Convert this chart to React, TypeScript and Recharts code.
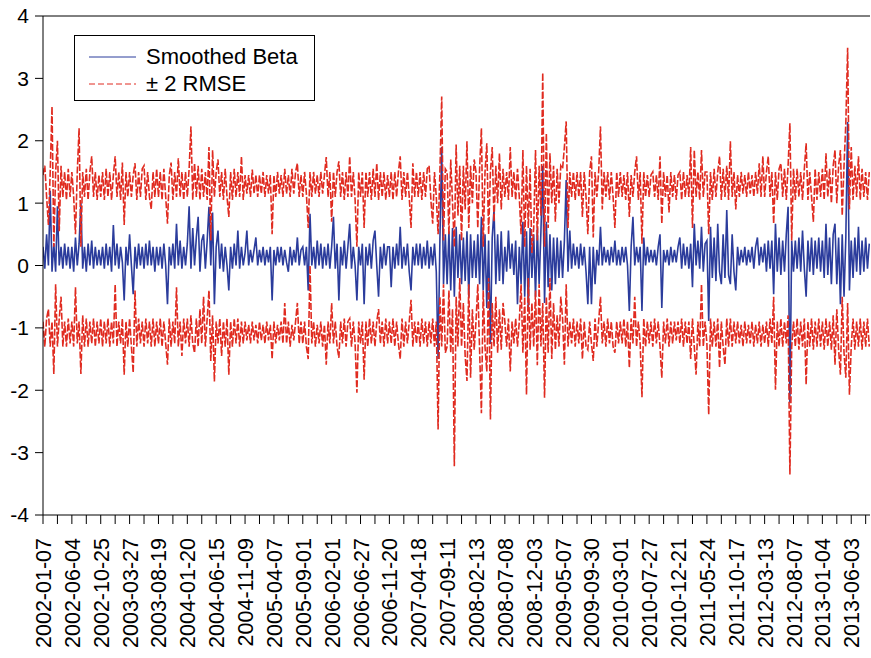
import React from "react";
import { LineChart, Line, XAxis, YAxis, ReferenceLine, Legend } from "recharts";

const dateLabels = [
  "2002-01-07", "2002-06-04", "2002-10-25", "2003-03-27", "2003-08-19",
  "2004-01-20", "2004-06-15", "2004-11-09", "2005-04-07", "2005-09-01",
  "2006-02-01", "2006-06-27", "2006-11-20", "2007-04-18", "2007-09-11",
  "2008-02-13", "2008-07-08", "2008-12-03", "2009-05-07", "2009-09-30",
  "2010-03-01", "2010-07-27", "2010-12-21", "2011-05-24", "2011-10-17",
  "2012-03-13", "2012-08-07", "2013-01-04", "2013-06-03",
];

const OBS_PER_LABEL = 100; // observations between two date labels
const POINTS_PER_LABEL = 16; // points per label interval
const LAST_OBS = 2865;
const yTicks = [-4, -3, -2, -1, 0, 1, 2, 3, 4];

// one row per label interval (thinned)
const betaRows = [
  [0.3, -0.05, 0.5, 0.0, 1.2, -0.1, 0.35, -0.1, 0.95, 0.0, 0.3, -0.05, 0.35, 0.0, 0.3, -0.05],
  [0.3, -0.1, 0.45, 0.0, 0.35, 1.0, -0.05, 0.3, -0.1, 0.35, 0.0, 0.4, -0.05, 0.3, 0.0, 0.25],
  [0.0, 0.3, -0.05, 0.35, 0.0, 0.3, -0.1, 0.65, 0.0, 0.35, -0.05, 0.3, 0.05, -0.56, 0.3, 0.0],
  [0.5, 0.0, -0.46, 0.3, -0.05, 0.35, 0.0, 0.3, -0.05, 0.35, 0.0, 0.4, 0.0, 0.3, -0.1, 0.3],
  [0.0, 0.3, -0.05, 0.35, 0.0, -0.62, 0.3, 0.0, 0.35, -0.05, 0.67, 0.0, 0.4, -0.05, 0.3, 0.0],
  [0.35, 0.95, -0.05, 0.6, 0.0, 0.45, 0.78, -0.1, 0.4, 0.5, -0.05, 0.4, 0.94, 0.0, 0.85, -0.62],
  [0.3, 0.56, -0.05, 0.35, -0.1, 0.3, 0.0, -0.4, 0.3, -0.05, 0.35, 0.0, 0.56, -0.05, 0.3, 0.0],
  [0.2, 0.56, 0.0, 0.25, 0.05, 0.25, 0.45, 0.0, 0.25, 0.05, 0.3, 0.0, 0.25, 0.05, 0.3, -0.56],
  [0.25, 0.0, 0.3, 0.05, 0.3, 0.0, 0.25, 0.05, -0.1, 0.3, 0.0, 0.25, 0.05, 0.45, 0.0, 0.25],
  [0.3, 0.0, 0.3, -0.4, 0.83, 0.0, 0.3, -0.05, 0.4, 0.0, 0.35, -0.05, 0.3, 0.0, 0.35, -0.05],
  [0.3, 0.78, -0.05, 0.35, -0.56, 0.3, 0.0, 0.4, -0.05, 0.3, 0.67, -0.05, 0.3, 0.0, -0.56, 0.3],
  [0.0, 0.35, -0.62, 0.3, 0.0, 0.35, -0.05, 0.4, 0.56, 0.0, -0.5, 0.3, -0.05, 0.35, 0.0, 0.3],
  [0.3, -0.35, 0.3, -0.05, 0.35, 0.0, 0.62, -0.05, 0.3, 0.0, 0.35, -0.1, -0.4, 0.3, 0.0, 0.35],
  [0.0, 0.35, -0.05, 0.3, 0.0, 0.4, -0.05, 0.3, 0.0, 0.35, -0.1, -1.5, 0.4, 1.9, -0.3, 0.5],
  [-0.3, 0.55, -0.4, 0.6, -0.5, 0.62, -0.2, 0.5, -0.3, 0.45, -0.25, 0.55, -0.5, 0.5, -0.2, 0.4],
  [-0.2, 0.5, -0.3, 0.78, -0.4, 0.5, -0.68, 0.4, -1.26, 0.45, 0.9, -0.3, 0.5, -0.25, 0.55, -0.3],
  [0.3, -0.1, 0.56, -0.05, 0.35, -0.15, 0.4, -0.62, 0.3, -0.3, 0.7, -0.5, 0.55, -0.7, 0.6, -0.2],
  [0.5, -0.5, 0.6, -0.3, 0.55, 1.6, -0.6, 0.7, -0.35, 0.5, -0.4, 0.45, -0.3, 0.45, -0.2, 0.4],
  [-0.2, 0.4, 1.37, -0.1, 0.56, -0.05, 0.35, 0.0, 0.3, -0.05, 0.35, 0.0, 0.3, -0.1, -0.62, 0.3],
  [-0.62, 0.3, -0.3, 0.25, 0.0, 0.62, 0.0, 0.3, 0.05, 0.25, 0.0, 0.3, 0.05, 0.4, 0.0, 0.25],
  [0.0, 0.3, 0.05, 0.3, 0.0, -0.73, 0.3, 0.78, 0.0, 0.3, 0.05, 0.3, -0.73, 0.45, 0.0, 0.3],
  [0.05, 0.25, 0.05, 0.25, 0.0, 0.3, 0.5, -0.68, 0.25, 0.05, 0.25, 0.0, 0.3, 0.05, 0.25, 0.05],
  [0.3, 0.45, -0.05, 0.35, 0.0, 0.3, -0.05, 0.35, -0.35, 0.67, 0.0, 0.4, -0.05, 0.62, -0.1, 0.35],
  [0.4, -0.89, 0.62, -0.2, 0.45, -0.25, 0.67, -0.1, -0.3, 0.5, -0.2, 0.89, -0.15, -0.3, 0.5, -0.1],
  [-0.4, 0.3, 0.0, 0.25, 0.05, 0.3, 0.0, 0.25, 0.05, 0.3, -0.05, 0.3, 0.45, 0.0, 0.3, 0.05],
  [0.35, -0.1, 0.4, -0.05, 0.4, -0.46, 0.67, -0.1, 0.45, -0.15, 0.4, -0.1, 0.5, 0.94, -2.2, 0.4],
  [-0.1, 0.4, -0.05, 0.45, -0.1, 0.56, -0.05, -0.5, 0.4, -0.1, 0.45, -0.15, 0.4, -0.05, 0.45, -0.1],
  [0.4, -0.2, 0.67, -0.15, 0.45, -0.3, 0.5, 0.67, -0.3, 0.45, -0.62, 0.5, -0.5, 0.45, 2.3, -0.4],
  [0.4, -0.2, 0.45, -0.1, 0.62, -0.15, 0.4, -0.1, 0.45, -0.05, 0.35],
];

const upperRows = [
  [1.45, 1.6, 1.1, 0.65, 1.5, 2.55, 0.3, 1.5, 2.0, 0.55, 1.6, 1.1, 1.5, 1.05, 1.55, 1.1],
  [1.5, 1.1, 0.5, 1.5, 2.2, 0.3, 1.5, 1.1, 1.55, 1.05, 1.5, 1.75, 1.1, 1.5, 1.05, 1.45],
  [1.1, 1.5, 1.05, 1.55, 1.1, 1.5, 1.05, 1.45, 1.75, 1.1, 1.5, 1.05, 1.65, 0.65, 1.5, 1.1],
  [1.5, 1.1, 1.45, 1.64, 1.05, 1.5, 1.1, 1.55, 1.6, 1.05, 1.5, 1.1, 0.9, 1.5, 1.1, 1.55],
  [1.1, 1.5, 1.05, 1.55, 1.1, 0.67, 1.45, 1.65, 1.05, 1.5, 1.1, 1.72, 1.1, 1.5, 1.05, 1.5],
  [1.1, 1.55, 2.23, 1.05, 1.64, 1.1, 1.6, 1.05, 1.55, 1.1, 1.5, 1.05, 1.9, 0.4, 1.85, 1.1],
  [1.5, 1.7, 1.1, 1.5, 1.05, 1.55, 1.1, 0.78, 1.5, 1.05, 1.55, 1.1, 1.5, 1.1, 1.75, 1.05],
  [1.45, 1.15, 1.45, 1.1, 1.54, 1.15, 1.45, 1.1, 1.45, 1.15, 1.5, 1.1, 1.45, 1.15, 1.45, 0.5],
  [1.45, 1.1, 1.5, 1.15, 1.45, 1.1, 1.55, 1.15, 1.45, 1.1, 1.55, 1.15, 1.5, 1.64, 1.1, 1.45],
  [1.1, 1.5, 1.15, 0.6, 1.5, 1.1, 1.5, 1.15, 1.45, 1.1, 1.5, 1.15, 1.45, 1.74, 1.1, 1.5],
  [0.7, 1.5, 1.1, 1.5, 1.67, 1.1, 1.5, 1.05, 1.5, 1.1, 1.75, 1.1, 1.5, 1.05, 0.3, 1.5],
  [1.1, 1.5, 0.6, 1.5, 1.1, 1.5, 1.05, 1.55, 1.1, 1.64, 1.05, 1.5, 1.1, 1.5, 1.05, 1.45],
  [1.1, 1.5, 1.05, 1.5, 1.1, 1.5, 1.75, 1.05, 1.5, 1.1, 1.5, 1.1, 0.6, 1.64, 1.1, 1.5],
  [1.1, 1.5, 1.05, 1.5, 1.1, 1.55, 1.6, 1.05, 0.67, 1.5, 1.1, 0.5, 1.5, 2.71, 0.4, 1.55],
  [1.5, 0.5, 1.7, 1.0, 0.3, 1.94, 0.8, 1.6, 0.4, 1.6, 0.9, 1.99, 0.6, 1.6, 1.0, 1.7],
  [1.5, 0.6, 1.55, 2.2, 0.3, 1.5, 1.96, 0.5, 1.5, 1.9, 0.7, 1.6, 1.0, 1.8, 0.9, 1.55],
  [1.1, 1.5, 1.05, 1.9, 1.1, 1.5, 1.05, 1.55, 1.1, 0.5, 1.85, 0.3, 1.6, 0.6, 1.55, 0.2],
  [0.6, 1.85, 0.4, 1.6, 0.8, 3.09, 0.3, 2.12, 0.6, 1.8, 1.0, 1.6, 0.7, 1.55, 1.0, 1.6],
  [1.55, 1.9, 2.31, 0.6, 1.5, 1.1, 1.5, 1.05, 1.5, 1.1, 1.5, 0.78, 1.5, 1.1, 0.5, 1.5],
  [1.75, 0.45, 1.5, 1.1, 1.5, 2.23, 0.9, 1.5, 1.1, 1.5, 1.05, 1.5, 1.1, 0.6, 1.5, 1.1],
  [1.5, 1.1, 1.45, 1.05, 1.5, 0.78, 1.45, 1.1, 1.5, 1.75, 1.05, 1.5, 0.35, 1.5, 1.1, 1.45],
  [1.1, 1.45, 1.5, 1.1, 1.45, 1.05, 1.75, 0.67, 1.5, 1.1, 1.45, 0.85, 1.5, 1.1, 1.45, 1.05],
  [1.45, 1.5, 1.05, 1.5, 1.1, 1.45, 1.1, 1.9, 0.6, 1.85, 1.1, 1.5, 1.05, 1.85, 1.1, 1.5],
  [1.5, 0.5, 1.5, 1.05, 1.55, 1.1, 1.5, 1.75, 1.05, 1.55, 1.1, 1.6, 1.05, 1.99, 1.1, 1.5],
  [0.9, 1.45, 1.1, 1.5, 1.15, 1.45, 1.1, 1.5, 1.15, 1.45, 1.1, 1.5, 1.15, 1.64, 1.1, 1.75],
  [1.1, 1.5, 1.75, 1.1, 1.5, 0.67, 1.5, 1.05, 1.55, 1.64, 1.1, 1.55, 1.05, 1.6, 2.28, 0.4],
  [1.55, 1.05, 1.55, 1.1, 1.5, 1.05, 1.55, 1.96, 1.05, 1.5, 1.1, 0.7, 1.55, 1.05, 1.5, 1.1],
  [1.55, 1.05, 1.8, 1.1, 1.55, 1.0, 1.6, 1.85, 1.0, 1.6, 1.85, 0.8, 1.6, 2.28, 3.49, 0.9],
  [1.9, 1.05, 1.6, 1.1, 1.75, 1.05, 1.55, 1.1, 1.5, 1.05, 1.5],
];

const lowerRows = [
  [-0.9, -1.3, -0.85, -0.7, -1.3, -0.9, -1.74, -0.3, -1.3, -0.85, -0.5, -1.3, -0.9, -1.3, -0.85, -1.25],
  [-0.9, -1.3, -0.35, -1.25, -0.9, -1.74, -0.8, -1.3, -0.85, -1.3, -0.9, -1.25, -0.85, -1.3, -0.9, -1.25],
  [-0.85, -1.3, -0.9, -1.25, -0.85, -1.3, -0.9, -1.25, -0.3, -1.3, -0.9, -1.25, -0.85, -1.75, -0.9, -1.3],
  [-0.85, -1.3, -1.72, -0.4, -1.3, -0.85, -1.25, -0.9, -1.3, -0.85, -1.25, -0.9, -1.3, -0.85, -1.3, -0.9],
  [-1.25, -0.85, -1.3, -0.9, -1.25, -1.59, -0.85, -1.3, -0.9, -1.25, -0.35, -1.3, -0.9, -1.45, -0.85, -1.25],
  [-0.85, -1.3, -0.8, -1.25, -1.4, -0.85, -1.3, -0.7, -1.25, -0.5, -1.3, -0.85, -0.4, -1.53, -0.8, -1.86],
  [-0.9, -1.25, -0.85, -1.45, -0.9, -1.3, -0.85, -1.75, -0.9, -1.3, -0.85, -1.25, -0.85, -1.3, -0.9, -1.25],
  [-0.9, -1.2, -0.95, -1.25, -0.9, -1.2, -0.95, -1.25, -0.9, -1.2, -0.95, -1.25, -0.9, -1.2, -0.95, -1.5],
  [-0.9, -1.25, -0.95, -1.2, -0.9, -1.25, -0.6, -1.25, -0.9, -1.3, -0.95, -1.2, -0.9, -0.6, -1.25, -0.9],
  [-1.25, -0.9, -1.3, -1.5, 0.0, -1.25, -0.9, -1.3, -0.95, -1.25, -0.9, -1.3, -0.95, -1.59, -0.9, -1.25],
  [-0.6, -1.25, -0.9, -1.3, -1.48, -0.9, -1.25, -0.85, -1.3, -0.9, -0.85, -1.3, -0.9, -1.25, -2.04, -0.9],
  [-1.25, -0.9, -1.83, -0.9, -1.3, -0.85, -1.25, -0.9, -1.3, -0.9, -0.7, -1.25, -0.9, -1.3, -0.85, -1.25],
  [-0.9, -1.25, -0.85, -1.3, -0.9, -1.25, -1.5, -0.85, -1.3, -0.9, -1.25, -0.9, -0.55, -1.3, -0.9, -1.25],
  [-0.9, -1.3, -0.85, -1.25, -0.9, -1.3, -0.9, -1.25, -0.85, -1.3, -0.9, -2.63, -0.5, -1.3, -0.3, -1.4],
  [-1.3, -0.4, -1.4, -0.7, -3.22, -0.5, -1.3, -0.2, -1.3, -0.6, -1.45, -1.85, -0.3, -1.8, -0.7, -1.35],
  [-0.9, -0.3, -1.35, -2.37, -0.4, -1.3, -1.7, -0.2, -2.47, -0.6, -1.3, -0.5, -1.4, -0.7, -1.35, -0.6],
  [-0.9, -1.3, -0.85, -1.7, -0.9, -1.25, -0.85, -1.3, -0.9, -0.3, -1.4, -0.5, -2.07, -0.2, -1.35, -0.6],
  [-1.3, -0.4, -1.6, -0.3, -1.3, -0.6, -2.12, -0.5, -1.4, -0.2, -1.5, -0.6, -1.35, -0.8, -1.3, -0.5],
  [-0.85, -1.59, -0.3, -1.3, -0.9, -1.25, -0.85, -1.3, -0.9, -1.25, -0.85, -1.5, -0.9, -1.3, -1.35, -0.9],
  [-1.25, -1.53, -0.85, -1.3, -0.9, -0.5, -1.25, -0.9, -1.3, -0.85, -1.25, -0.9, -1.3, -1.4, -0.9, -1.25],
  [-0.9, -1.25, -0.85, -1.3, -0.9, -1.64, -0.85, -1.25, -0.5, -1.3, -0.9, -1.25, -2.11, -0.85, -1.3, -0.9],
  [-1.25, -0.9, -1.3, -0.85, -1.25, -0.9, -1.3, -1.8, -0.9, -1.25, -0.85, -1.3, -0.9, -1.25, -0.9, -1.2],
  [-0.9, -1.25, -0.85, -1.3, -0.9, -1.25, -0.9, -1.5, -0.85, -1.3, -1.75, -0.9, -1.3, -0.3, -1.3, -0.9],
  [-1.25, -2.39, -0.85, -1.3, -0.9, -1.3, -0.85, -1.64, -0.9, -1.3, -1.59, -0.85, -1.3, -0.85, -1.3, -0.9],
  [-1.25, -0.9, -1.25, -0.95, -1.3, -0.9, -1.25, -0.95, -1.25, -0.9, -1.3, -0.95, -1.25, -0.9, -1.3, -0.95],
  [-1.25, -0.9, -1.3, -0.85, -1.25, -0.5, -1.99, -0.9, -1.3, -0.85, -1.3, -0.9, -1.25, -0.8, -3.35, -1.3],
  [-0.9, -1.3, -0.85, -1.35, -0.9, -1.3, -0.85, -1.91, -0.9, -1.3, -0.85, -1.35, -0.9, -1.3, -0.85, -1.3],
  [-0.9, -1.35, -0.85, -1.3, -0.9, -1.35, -0.8, -1.59, -0.7, -1.35, -1.75, -0.5, -1.4, -1.8, -0.6, -2.07],
  [-1.3, -0.85, -1.35, -0.9, -1.3, -0.85, -1.35, -0.9, -1.3, -0.85, -1.3],
];

const BLUE = "#2b3c9c";
const RED = "#e02b20";
const FONT = "'Liberation Sans', Arial, sans-serif";

// merge the row tables into one table keyed by observation number
const table = new Map<number, Record<string, number>>();
function addSeries(key: string, rows: number[][]) {
  rows.forEach((row, k) =>
    row.forEach((v, j) => {
      const obs = k * OBS_PER_LABEL + (j * OBS_PER_LABEL) / POINTS_PER_LABEL;
      const p = table.get(obs) ?? { obs };
      p[key] = v;
      table.set(obs, p);
    })
  );
}
addSeries("beta", betaRows);
addSeries("upper", upperRows);
addSeries("lower", lowerRows);
const data = Array.from(table.values()).sort((a, b) => a.obs - b.obs);

const xTicks: number[] = [];
for (let t = 0; t <= LAST_OBS; t += OBS_PER_LABEL / 2) xTicks.push(t);

function DateTick(props: any) {
  const { x, y, payload } = props;
  const v = payload.value as number;
  if (v % OBS_PER_LABEL !== 0) return <g />;
  return (
    <text
      transform={`translate(${x + 8},${y}) rotate(-90)`}
      textAnchor="end"
      fontSize={21.5}
      fontFamily={FONT}
      fill="#000"
    >
      {dateLabels[v / OBS_PER_LABEL]}
    </text>
  );
}

const legendItems = [
  { label: "Smoothed Beta", color: BLUE, dash: undefined as string | undefined },
  { label: "± 2 RMSE", color: RED, dash: "6 3" },
];

function LegendBox() {
  return (
    <div
      style={{
        width: 241,
        height: 66,
        border: "1px solid #000",
        background: "#fff",
        fontFamily: FONT,
        fontSize: 22,
        color: "#000",
        paddingTop: 7,
        boxSizing: "border-box",
      }}
    >
      {legendItems.map((it) => (
        <div key={it.label} style={{ display: "flex", alignItems: "center", height: 27 }}>
          <svg width={62} height={10} style={{ marginLeft: 13 }}>
            <line x1={1} y1={5} x2={48} y2={5} stroke={it.color} strokeWidth={1} strokeDasharray={it.dash} />
          </svg>
          <span style={{ marginLeft: -4 }}>{it.label}</span>
        </div>
      ))}
    </div>
  );
}

export default function App() {
  return (
    <div style={{ position: "absolute", left: 0, top: 0, background: "#fff" }}>
      <LineChart width={871} height={658} data={data} margin={{ top: 16, right: 1, bottom: 3, left: 0 }}>
        <XAxis
          type="number"
          dataKey="obs"
          domain={[0, LAST_OBS]}
          ticks={xTicks}
          interval={0}
          tick={<DateTick />}
          tickSize={9}
          tickMargin={14}
          height={140}
          axisLine={{ stroke: "#000" }}
          tickLine={{ stroke: "#000" }}
          allowDataOverflow
        />
        <YAxis
          type="number"
          domain={[-4, 4]}
          ticks={yTicks}
          interval={0}
          width={43}
          tickSize={8}
          tickMargin={6}
          axisLine={{ stroke: "#000" }}
          tickLine={{ stroke: "#000" }}
          tick={{ fontSize: 21, fill: "#000", fontFamily: FONT }}
        />
        <ReferenceLine y={4} stroke="#000" />
        <Legend
          layout="vertical"
          align="center"
          verticalAlign="middle"
          wrapperStyle={{ left: 74, top: 35 }}
          content={() => <LegendBox />}
        />
        <Line dataKey="beta" stroke={BLUE} strokeWidth={1.6} dot={false} isAnimationActive={false} connectNulls />
        <Line dataKey="upper" stroke={RED} strokeWidth={1.6} strokeDasharray="7 2" dot={false} isAnimationActive={false} connectNulls />
        <Line dataKey="lower" stroke={RED} strokeWidth={1.6} strokeDasharray="7 2" dot={false} isAnimationActive={false} connectNulls />
      </LineChart>
    </div>
  );
}
